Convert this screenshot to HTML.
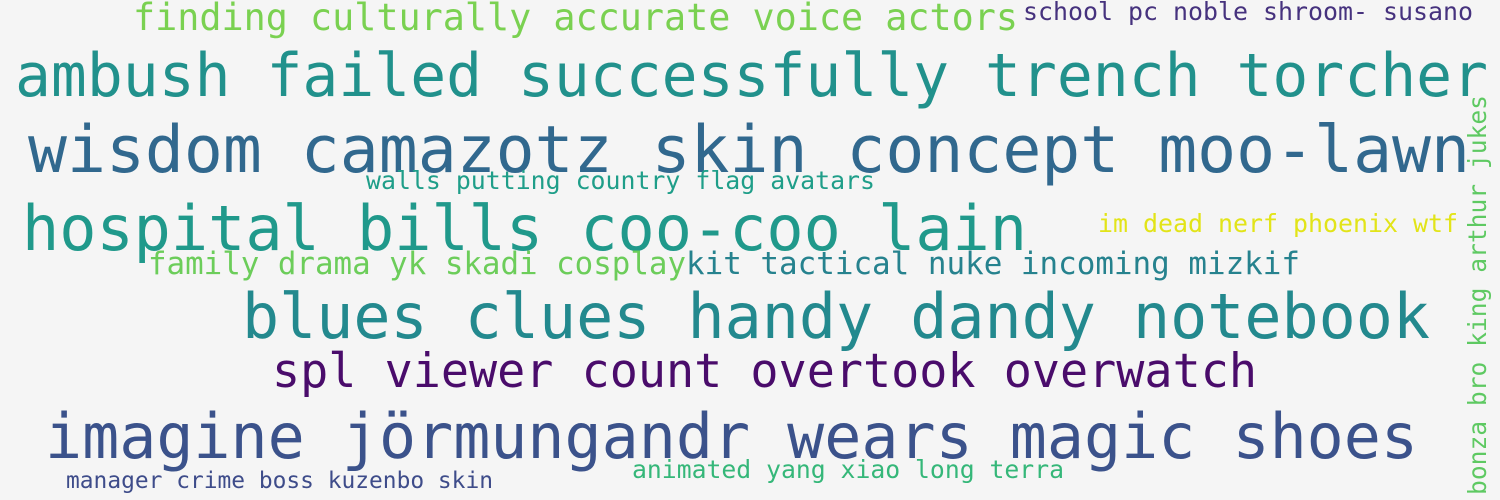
<!DOCTYPE html>
<html><head><meta charset="utf-8"><style>
html,body{margin:0;padding:0;background:#f5f5f5;}
svg{display:block}
text{font-family:"DejaVu Sans Mono","Liberation Mono",monospace;}
</style></head><body>
<svg width="1500" height="500" viewBox="0 0 1500 500">
<rect width="1500" height="500" fill="#f5f5f5"/>
<text x="133" y="30" font-size="37" fill="#7ad151" textLength="885" lengthAdjust="spacingAndGlyphs">finding culturally accurate voice actors</text>
<text x="1023" y="20" font-size="25" fill="#46327e" textLength="450" lengthAdjust="spacingAndGlyphs">school pc noble shroom- susano</text>
<text x="15" y="96" font-size="60" fill="#21918c" textLength="1473" lengthAdjust="spacingAndGlyphs">ambush failed successfully trench torcher</text>
<text x="28" y="172" font-size="65" fill="#31688e" textLength="1442" lengthAdjust="spacingAndGlyphs">wisdom camazotz skin concept moo-lawn</text>
<text x="366" y="189" font-size="25" fill="#1f9e89" textLength="509" lengthAdjust="spacingAndGlyphs">walls putting country flag avatars</text>
<text x="22" y="250" font-size="62" fill="#20998b" textLength="1005" lengthAdjust="spacingAndGlyphs">hospital bills coo-coo lain</text>
<text x="1098" y="232" font-size="25" fill="#e2e418" textLength="360" lengthAdjust="spacingAndGlyphs">im dead nerf phoenix wtf</text>
<text x="148" y="274" font-size="31" fill="#6ccd5a" textLength="538" lengthAdjust="spacingAndGlyphs">family drama yk skadi cosplay</text>
<text x="686" y="274" font-size="31" fill="#26828e" textLength="614" lengthAdjust="spacingAndGlyphs">kit tactical nuke incoming mizkif</text>
<text x="242" y="338" font-size="62" fill="#23898e" textLength="1188" lengthAdjust="spacingAndGlyphs">blues clues handy dandy notebook</text>
<text x="272" y="387" font-size="47" fill="#4a0c6b" textLength="985" lengthAdjust="spacingAndGlyphs">spl viewer count overtook overwatch</text>
<text x="45" y="458" font-size="62" fill="#3b528b" textLength="1373" lengthAdjust="spacingAndGlyphs">imagine jörmungandr wears magic shoes</text>
<text x="66" y="488" font-size="23" fill="#3e4c8a" textLength="427" lengthAdjust="spacingAndGlyphs">manager crime boss kuzenbo skin</text>
<text x="632" y="478" font-size="25" fill="#35b779" textLength="432" lengthAdjust="spacingAndGlyphs">animated yang xiao long terra</text>
<text x="0" y="0" font-size="25" fill="#5ec962" textLength="400" lengthAdjust="spacingAndGlyphs" transform="translate(1486,495) rotate(-90)">bonza bro king arthur jukes</text>
</svg>
</body></html>
